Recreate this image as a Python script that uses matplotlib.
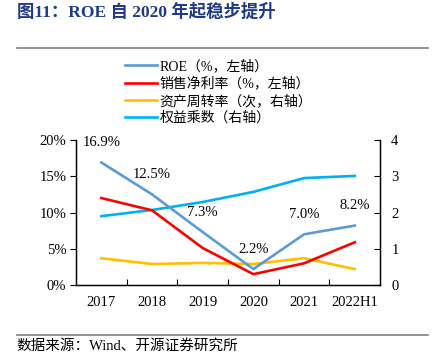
import matplotlib
matplotlib.use("Agg")
import matplotlib.pyplot as plt
from matplotlib.lines import Line2D

plt.rcParams['font.family'] = ['Liberation Serif', 'Noto Sans CJK SC']

years = ["2017", "2018", "2019", "2020", "2021", "2022H1"]
roe = [16.9, 12.5, 7.3, 2.2, 7.0, 8.2]
net_margin = [12.0, 10.3, 5.1, 1.5, 3.0, 5.9]
asset_turnover = [0.74, 0.58, 0.61, 0.58, 0.74, 0.44]
equity_mult = [1.90, 2.07, 2.29, 2.57, 2.95, 3.01]

labels = ["ROE（%，左轴）", "销售净利率（%，左轴）", "资产周转率（次，右轴）", "权益乘数（右轴）"]
colors = ["#5B9BD5", "#FF0000", "#FFC000", "#00B0F0"]

fig = plt.figure(figsize=(4.42, 3.59), dpi=100)
ax = fig.add_axes([0.172, 0.206, 0.688, 0.404])
ax2 = ax.twinx()

x = list(range(len(years)))
lw = 1.9
ax.plot(x, roe, color=colors[0], lw=lw, zorder=3)
ax.plot(x, net_margin, color=colors[1], lw=lw, zorder=3)
ax2.plot(x, asset_turnover, color=colors[2], lw=lw)
ax2.plot(x, equity_mult, color=colors[3], lw=lw)
ax.set_zorder(ax2.get_zorder() + 1)
ax.patch.set_visible(False)

for xi, v in zip(x, roe):
    ax.annotate(f"{v:.1f}%", (xi, v), xytext=(0, 20), textcoords="offset pixels",
                ha="center", va="center", fontsize=10.5, color="#000000")

ax.set_xlim(-0.5, len(years) - 0.5)
ax.set_ylim(0, 20)
ax.set_yticks([0, 5, 10, 15, 20])
ax.set_yticklabels([f"{t}%" for t in [0, 5, 10, 15, 20]])
ax2.set_ylim(0, 4)
ax2.set_yticks([0, 1, 2, 3, 4])

ax.set_xticks(x)
ax.set_xticklabels(years)
ax.set_xticks([i + 0.5 for i in x[:-1]], minor=True)
ax.tick_params(axis="x", which="major", length=0, labelsize=10.5, pad=8)
ax.tick_params(axis="x", which="minor", direction="in", length=4, width=0.8)
ax.tick_params(axis="y", direction="out", length=4, width=0.8, labelsize=10.5, pad=3)
ax2.tick_params(axis="y", direction="in", length=4, width=0.8, labelsize=10.5, pad=8)

for a in (ax, ax2):
    a.spines["top"].set_visible(False)
    for s in ("left", "right", "bottom"):
        a.spines[s].set_linewidth(0.9)
        a.spines[s].set_color("#000000")

handles = [Line2D([0], [0], color=c, lw=lw) for c in colors]
fig.legend(handles, labels, loc="upper left", bbox_to_anchor=(0.283, 0.834),
           frameon=False, fontsize=10, handlelength=2.3, handletextpad=0.2,
           labelspacing=0.25, borderpad=0, borderaxespad=0)

fig.text(0.038, 0.966, "图11：ROE 自 2020 年起稳步提升", fontsize=12.5, fontweight="bold",
         color="#1F3A8A", va="center", ha="left")
fig.add_artist(Line2D([0.038, 0.968], [0.866, 0.866], color="#808080", lw=1.2))
fig.add_artist(Line2D([0.038, 0.968], [0.067, 0.067], color="#808080", lw=1.2))
fig.text(0.038, 0.037, "数据来源：Wind、开源证券研究所", fontsize=10.5, va="center", ha="left")

fig.savefig("out.png", dpi=100)
